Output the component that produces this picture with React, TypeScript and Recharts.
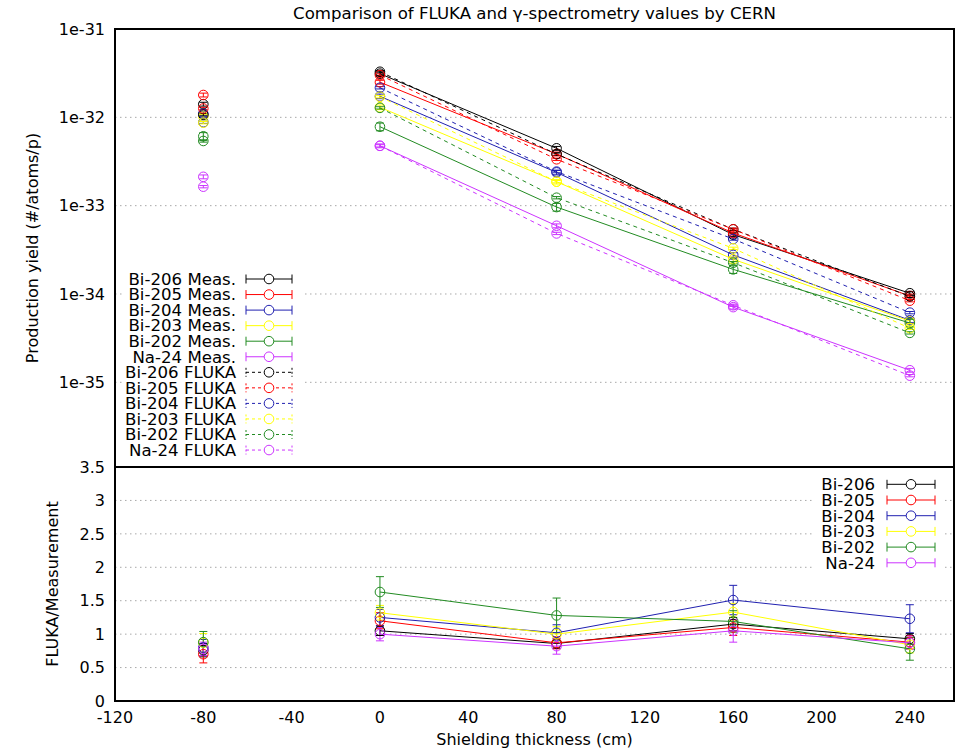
import React from 'react';
import { ScatterChart, Scatter, XAxis, YAxis, CartesianGrid, ErrorBar, ReferenceArea, Legend, Label } from 'recharts';

const FONT = '"DejaVu Sans", sans-serif';
const FS = 16;
const FS_TEXT = 16.6;

// ---------- data ----------
const isotopes = ['Bi-206', 'Bi-205', 'Bi-204', 'Bi-203', 'Bi-202', 'Na-24'];
const colors = ['#000000', '#ff0000', '#2020b0', '#ffff00', '#228b22', '#cc33ff'];

const thickness = [0, 80, 160, 240];
const refPosition = [-80];

// measured production yields at 0, 80, 160, 240 cm
const measValues = [
  [3.12e-32, 4.46e-33, 4.7e-34, 1.02e-34],
  [2.5e-32, 3.85e-33, 4.9e-34, 9.5e-35],
  [1.73e-32, 2.38e-33, 2.77e-34, 5.04e-35],
  [1.3e-32, 1.87e-33, 2.47e-34, 4.93e-35],
  [7.83e-33, 9.64e-34, 1.9e-34, 4.7e-35],
  [4.76e-33, 5.92e-34, 7.1e-35, 1.37e-35],
];
// FLUKA production yields at 0, 80, 160, 240 cm
const flukaValues = [
  [3.28e-32, 3.83e-33, 5.4e-34, 9.4e-35],
  [3.01e-32, 3.35e-33, 5.4e-34, 8.4e-35],
  [2.16e-32, 2.43e-33, 4.19e-34, 6.15e-35],
  [1.71e-32, 1.87e-33, 3.29e-34, 4.1e-35],
  [1.28e-32, 1.23e-33, 2.26e-34, 3.63e-35],
  [4.76e-33, 4.85e-34, 7.45e-35, 1.19e-35],
];
// values at -80 cm (reference position)
const measRef = [1.41e-32, 1.79e-32, 1.1e-32, 1.02e-32, 6.1e-33, 2.12e-33];
const flukaRef = [1.07e-32, 1.26e-32, 8.8e-33, 8.7e-33, 5.4e-33, 1.64e-33];
// relative uncertainties
const measRelErr = [0.05, 0.05, 0.06, 0.06, 0.1, 0.05];
const flukaRelErr = [0.03, 0.03, 0.03, 0.03, 0.03, 0.03];

// FLUKA / Measurement ratios: first value at -80 cm, then 0, 80, 160, 240 cm
const ratioValues = [
  [0.76, 1.05, 0.86, 1.15, 0.93],
  [0.7, 1.2, 0.87, 1.1, 0.88],
  [0.8, 1.25, 1.02, 1.51, 1.23],
  [0.87, 1.32, 1.0, 1.33, 0.84],
  [0.88, 1.63, 1.28, 1.19, 0.78],
  [0.78, 1.0, 0.82, 1.05, 0.87],
];
const ratioErrors = [
  [0.1, 0.07, 0.07, 0.1, 0.08],
  [0.13, 0.12, 0.09, 0.12, 0.1],
  [0.12, 0.12, 0.12, 0.22, 0.21],
  [0.14, 0.11, 0.11, 0.13, 0.12],
  [0.16, 0.23, 0.26, 0.16, 0.17],
  [0.1, 0.1, 0.12, 0.17, 0.1],
];

const xTicks = [-120, -80, -40, 0, 40, 80, 120, 160, 200, 240];
const xDomain = [-120, 260];
const yTopTicks = [1e-35, 1e-34, 1e-33, 1e-32, 1e-31];
const yTopTickLabels = ['1e-35', '1e-34', '1e-33', '1e-32', '1e-31'];
const yTopDomain = [1.1e-36, 1e-31];
const yBotTicks = [0, 0.5, 1, 1.5, 2, 2.5, 3, 3.5];
const yBotTickLabels = ['0', '0.5', '1', '1.5', '2', '2.5', '3', '3.5'];
const yBotDomain = [0, 3.5];

const titleText = 'Comparison of FLUKA and \u03b3-spectrometry values by CERN';
const topYLabel = 'Production yield (#/atoms/p)';
const botYLabel = 'FLUKA/Measurement';
const xLabelText = 'Shielding thickness (cm)';

// ---------- helpers ----------
const circleShape = (color: string) => (p: any) =>
  p && p.cx != null ? <circle cx={p.cx} cy={p.cy} r={4.8} fill="none" stroke={color} strokeWidth={1} /> : <g />;

const topTickFmt = (v: number) => {
  const i = yTopTicks.findIndex((t) => Math.abs(Math.log10(t) - Math.log10(v)) < 1e-6);
  return i >= 0 ? yTopTickLabels[i] : '';
};
const botTickFmt = (v: number) => {
  const i = yBotTicks.findIndex((t) => Math.abs(t - v) < 1e-9);
  return i >= 0 ? yBotTickLabels[i] : '';
};

// dx: distance from the plot's left edge to the label's centre
const rotatedLabel = (text: string, dx: number) => (props: any) => {
  const vb = props.viewBox || { x: 55, y: 0, width: 60, height: 0 };
  const cx = vb.x + vb.width - dx;
  const cy = vb.y + vb.height / 2;
  return (
    <text x={cx} y={cy} transform={`rotate(-90 ${cx} ${cy})`} textAnchor="middle" dy="0.35em"
      fontFamily={FONT} fontSize={FS} fill="#000">{text}</text>
  );
};

const xLabelContent = (props: any) => {
  const vb = props.viewBox || { x: 115, y: 701, width: 839, height: 53 };
  return (
    <text x={vb.x + vb.width / 2} y={vb.y + 44} textAnchor="middle" fontFamily={FONT} fontSize={FS} fill="#000">
      {xLabelText}
    </text>
  );
};

const tickStyle = { fill: '#000', fontSize: FS, fontFamily: FONT };

// ---------- legends ----------
const LegendSample = ({ x1, x2, cy, color, dashed }: any) => {
  const da = dashed ? '3 3' : undefined;
  return (
    <g>
      <line x1={x1} x2={x2} y1={cy} y2={cy} stroke={color} strokeWidth={1} strokeDasharray={da} />
      <line x1={x1} x2={x1} y1={cy - 4.5} y2={cy + 4.5} stroke={color} strokeWidth={1} strokeDasharray={dashed ? '2 2' : undefined} />
      <line x1={x2} x2={x2} y1={cy - 4.5} y2={cy + 4.5} stroke={color} strokeWidth={1} strokeDasharray={dashed ? '2 2' : undefined} />
      <circle cx={(x1 + x2) / 2} cy={cy} r={4.8} fill="#fff" stroke={color} strokeWidth={1} />
    </g>
  );
};

const TopLegend = () => {
  const entries = [
    ...isotopes.map((n, i) => ({ label: `${n} Meas.`, color: colors[i], dashed: false })),
    ...isotopes.map((n, i) => ({ label: `${n} FLUKA`, color: colors[i], dashed: true })),
  ];
  return (
    <svg width={180} height={190} style={{ display: 'block', background: '#fff' }}>
      {entries.map((e, i) => {
        const cy = 9 + i * 15.55;
        return (
          <g key={i}>
            <text x={114} y={cy} dy="0.35em" textAnchor="end" fontFamily={FONT} fontSize={FS_TEXT} fill="#000">{e.label}</text>
            <LegendSample x1={124} x2={170} cy={cy} color={e.color} dashed={e.dashed} />
          </g>
        );
      })}
    </svg>
  );
};

const BotLegend = () => (
  <svg width={132} height={96} style={{ display: 'block', background: '#fff' }}>
    {isotopes.map((n, i) => {
      const cy = 8.3 + i * 15.7;
      return (
        <g key={i}>
          <text x={63} y={cy} dy="0.35em" textAnchor="end" fontFamily={FONT} fontSize={FS_TEXT} fill="#000">{n}</text>
          <LegendSample x1={75} x2={123} cy={cy} color={colors[i]} dashed={false} />
        </g>
      );
    })}
  </svg>
);

// ---------- series builders ----------
const topSeries: any[] = [];
isotopes.forEach((n, k) => {
  topSeries.push({
    key: `m-${k}`, color: colors[k], dashed: false, line: true,
    data: thickness.map((x, i) => ({ x, y: measValues[k][i], err: measValues[k][i] * measRelErr[k] })),
  });
  topSeries.push({
    key: `mr-${k}`, color: colors[k], dashed: false, line: false,
    data: refPosition.map((x) => ({ x, y: measRef[k], err: measRef[k] * measRelErr[k] })),
  });
});
isotopes.forEach((n, k) => {
  topSeries.push({
    key: `f-${k}`, color: colors[k], dashed: true, line: true,
    data: thickness.map((x, i) => ({ x, y: flukaValues[k][i], err: flukaValues[k][i] * flukaRelErr[k] })),
  });
  topSeries.push({
    key: `fr-${k}`, color: colors[k], dashed: true, line: false,
    data: refPosition.map((x) => ({ x, y: flukaRef[k], err: flukaRef[k] * flukaRelErr[k] })),
  });
});

const botSeries: any[] = [];
isotopes.forEach((n, k) => {
  botSeries.push({
    key: `r-${k}`, color: colors[k], line: true,
    data: thickness.map((x, i) => ({ x, y: ratioValues[k][i + 1], err: ratioErrors[k][i + 1] })),
  });
  botSeries.push({
    key: `rr-${k}`, color: colors[k], line: false,
    data: refPosition.map((x) => ({ x, y: ratioValues[k][0], err: ratioErrors[k][0] })),
  });
});

export default function App() {
  return (
    <div style={{ position: 'absolute', left: 0, top: 0, width: 962, height: 754, background: '#fff', overflow: 'hidden' }}>
      <div style={{ position: 'absolute', left: 0, top: 0 }}>
        <ScatterChart width={962} height={470} margin={{ top: 29, right: 8, bottom: 3, left: 55 }}>
          <CartesianGrid vertical={false} stroke="#a8a8a8" strokeDasharray="1.5 3.5" />
          <XAxis type="number" dataKey="x" domain={xDomain} ticks={xTicks} hide allowDataOverflow />
          <YAxis type="number" dataKey="y" scale="log" domain={yTopDomain} allowDataOverflow ticks={yTopTicks}
            tickFormatter={topTickFmt} width={60} tickSize={0} tickMargin={10} axisLine={false} tickLine={false}
            tick={tickStyle} interval={0}>
            <Label content={rotatedLabel(topYLabel, 83)} />
          </YAxis>
          {topSeries.map((s) => (
            <Scatter key={s.key} data={s.data} fill={s.color} isAnimationActive={false} legendType="none"
              shape={circleShape(s.color)}
              line={s.line ? { stroke: s.color, strokeWidth: 1, strokeDasharray: s.dashed ? '4 4' : undefined } : false}>
              <ErrorBar dataKey="err" direction="y" stroke={s.color} width={4} strokeWidth={1} />
            </Scatter>
          ))}
          <ReferenceArea x1={xDomain[0]} x2={xDomain[1]} y1={yTopDomain[0]} y2={yTopDomain[1]} fill="none"
            fillOpacity={0} stroke="#000" strokeWidth={2} ifOverflow="visible" />
          <Legend layout="vertical" align="center" verticalAlign="middle" content={() => <TopLegend />}
            wrapperStyle={{ left: 122, top: 270, width: 180, height: 190 }} />
        </ScatterChart>
      </div>
      <div style={{ position: 'absolute', left: 0, top: 0 }}>
        <ScatterChart width={962} height={754} margin={{ top: 467, right: 8, bottom: 0, left: 55 }}>
          <CartesianGrid vertical={false} stroke="#a8a8a8" strokeDasharray="1.5 3.5" />
          <XAxis type="number" dataKey="x" domain={xDomain} ticks={xTicks} height={53} tickSize={0} tickMargin={11}
            axisLine={false} tickLine={false} tick={tickStyle} interval={0} allowDataOverflow>
            <Label content={xLabelContent} />
          </XAxis>
          <YAxis type="number" dataKey="y" domain={yBotDomain} ticks={yBotTicks} tickFormatter={botTickFmt}
            width={60} tickSize={0} tickMargin={10} axisLine={false} tickLine={false} tick={tickStyle} interval={0}
            allowDataOverflow>
            <Label content={rotatedLabel(botYLabel, 63)} />
          </YAxis>
          {botSeries.map((s) => (
            <Scatter key={s.key} data={s.data} fill={s.color} isAnimationActive={false} legendType="none"
              shape={circleShape(s.color)}
              line={s.line ? { stroke: s.color, strokeWidth: 1 } : false}>
              <ErrorBar dataKey="err" direction="y" stroke={s.color} width={4} strokeWidth={1} />
            </Scatter>
          ))}
          <ReferenceArea x1={xDomain[0]} x2={xDomain[1]} y1={yBotDomain[0]} y2={yBotDomain[1]} fill="none"
            fillOpacity={0} stroke="#000" strokeWidth={2} ifOverflow="visible" />
          <Legend layout="vertical" align="center" verticalAlign="middle" content={() => <BotLegend />}
            wrapperStyle={{ left: 812, top: 476, width: 132, height: 96 }} />
        </ScatterChart>
      </div>
      <div style={{ position: 'absolute', left: 115, top: 4, width: 839, textAlign: 'center', fontFamily: FONT,
        fontSize: FS_TEXT, lineHeight: '20px', color: '#000', whiteSpace: 'nowrap' }}>
        {titleText}
      </div>
    </div>
  );
}
